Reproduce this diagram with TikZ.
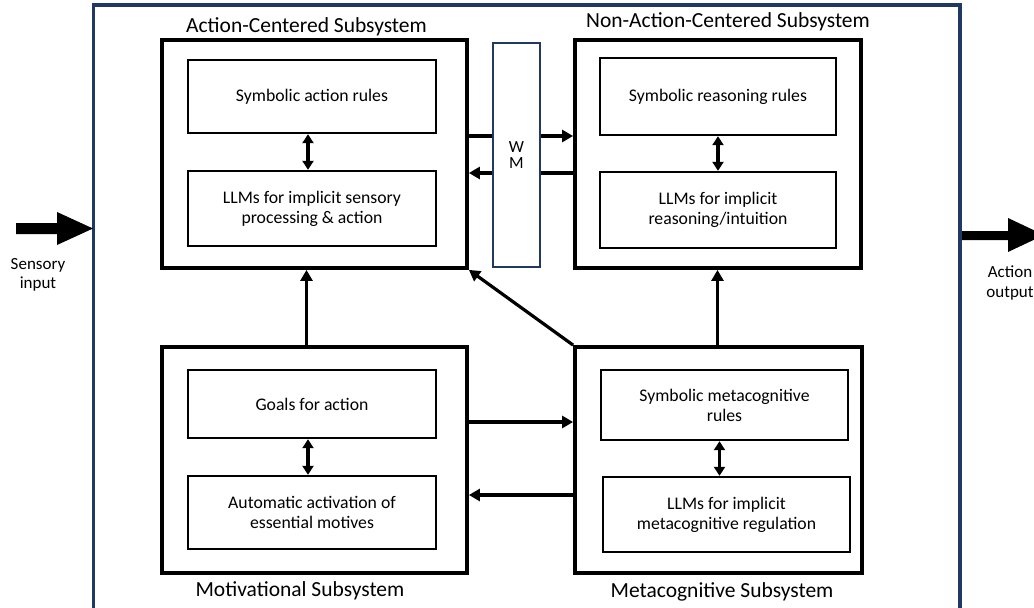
\documentclass[tikz,border=0pt]{standalone}
\usepackage{fontspec}
\setmainfont{Carlito}
\usetikzlibrary{arrows.meta,calc}
\definecolor{navy}{HTML}{1F3864}
\begin{document}
\begin{tikzpicture}[x=1pt,y=-1pt,
  bigbox/.style={draw=black,line width=3.8pt,minimum width=#1,inner sep=0pt},
  inbox/.style={draw=black,line width=2.4pt,inner sep=0pt,align=center,font=\fontsize{17.7}{20}\selectfont},
  title/.style={font=\fontsize{21.5}{24}\selectfont,inner sep=0pt},
  lab/.style={font=\fontsize{17}{19.5}\selectfont,align=center,inner sep=0pt},
  arr/.style={line width=3.2pt,-{Triangle[length=11pt,width=12pt]}},
  dbl/.style={line width=3.2pt,{Triangle[length=9pt,width=11pt]}-{Triangle[length=9pt,width=11pt]}},
  bigarrow/.style={fill=black,draw=none}]
\useasboundingbox (0,0) rectangle (1034,608);
\clip (0,0) rectangle (1034,608);
\fill[white] (0,0) rectangle (1034,608);
% outer frame
\draw[navy,line width=3.5pt] (93.5,630) -- (93.5,5) -- (960,5) -- (960,630);
% big boxes
\node[bigbox=305pt,minimum height=228pt] (acs) at (314.5,154) {};
\node[bigbox=286pt,minimum height=228pt] (nacs) at (718,154) {};
\node[bigbox=305pt,minimum height=226pt] (mot) at (314.5,460) {};
\node[bigbox=287pt,minimum height=226pt] (meta) at (718.5,460) {};
% inner boxes
\node[inbox,minimum width=248pt,minimum height=73pt] (acsS) at (312,96.5) {Symbolic action rules};
\node[inbox,minimum width=248pt,minimum height=75pt] (acsL) at (312,208.5) {LLMs for implicit sensory\\processing \& action};
\node[inbox,minimum width=236pt,minimum height=77pt] (nacsS) at (718,96.5) {Symbolic reasoning rules};
\node[inbox,minimum width=236pt,minimum height=76pt] (nacsL) at (718,210) {LLMs for implicit\\reasoning/intuition};
\node[inbox,minimum width=248pt,minimum height=68pt] (motG) at (312,404) {Goals for action};
\node[inbox,minimum width=248pt,minimum height=73pt] (motA) at (312,512.5) {Automatic activation of\\essential motives};
\node[inbox,minimum width=247pt,minimum height=70pt] (metaS) at (724.5,405) {Symbolic metacognitive\\rules};
\node[inbox,minimum width=247pt,minimum height=75pt] (metaL) at (726.5,514.5) {LLMs for implicit\\metacognitive regulation};
% WM
\node[draw=navy,line width=2pt,minimum width=47pt,minimum height=224pt,inner sep=0pt,align=center,font=\fontsize{17}{16}\selectfont] (wm) at (516.5,155) {W\\M};
% titles
\node[title] (t1) at (306.5,27) {Action-Centered Subsystem};
\node[title] (t2) at (728,22) {Non-Action-Centered Subsystem};
\node[title] (t3) at (300,591) {Motivational Subsystem};
\node[title] (t4) at (722,592) {Metacognitive Subsystem};
% labels
\node[lab] (sin) at (38,275) {Sensory\\input};
\node[lab] (aout) at (1010,283) {Action\\output};
% inner double arrows
\draw[dbl] ([xshift=-4pt]acsS.south) -- ([xshift=-4pt]acsL.north);
\draw[dbl] (nacsS.south) -- (nacsL.north);
\draw[dbl] ([xshift=-4pt]motG.south) -- ([xshift=-4pt]motA.north);
\draw[dbl] ([xshift=-5pt]metaS.south) -- ([xshift=-5pt]metaS.south |- metaL.north);
% ACS <-> NACS through WM
\draw[line width=3.2pt] ([yshift=18pt]acs.east) -- ([yshift=18pt]acs.east -| wm.west);
\draw[arr] ([yshift=18pt]acs.east -| wm.east) -- ([yshift=18pt]acs.east -| nacs.west);
\draw[line width=3.2pt] ([yshift=-19pt]acs.east -| nacs.west) -- ([yshift=-19pt]acs.east -| wm.east);
\draw[arr] ([yshift=-19pt]acs.east -| wm.west) -- ([yshift=-19pt]acs.east);
% vertical arrows
\draw[arr] ([xshift=-8pt]mot.north) -- ([xshift=-8pt]mot.north |- acs.south);
\draw[arr] ([xshift=-1pt]meta.north) -- ([xshift=-1pt]meta.north |- nacs.south);
% diagonal
\draw[arr] (meta.north west) -- (acs.south east);
% Mot <-> Meta
\draw[arr] ([yshift=38pt]mot.east) -- ([yshift=38pt]mot.east -| meta.west);
\draw[arr] ([yshift=-35pt]mot.east -| meta.west) -- ([yshift=-35pt]mot.east);
% big arrows
\fill[bigarrow] (16,223) -- (57,223) -- (57,212) -- (93,228.5) -- (57,245) -- (57,234) -- (16,234) -- cycle;
\fill[bigarrow] (962,231) -- (1008,231) -- (1008,218) -- (1044,235) -- (1008,252) -- (1008,240) -- (962,240) -- cycle;
\end{tikzpicture}
\end{document}
